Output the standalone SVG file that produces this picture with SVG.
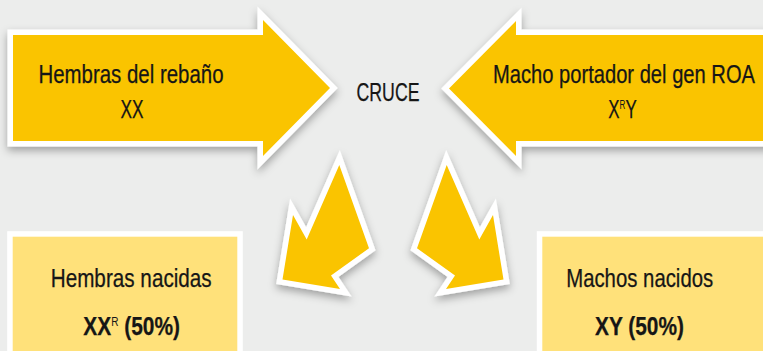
<svg xmlns="http://www.w3.org/2000/svg" width="763" height="351" viewBox="0 0 763 351">
<defs>
<filter id="sh" x="-20%" y="-20%" width="140%" height="150%">
<feDropShadow dx="0" dy="4" stdDeviation="4.5" flood-color="#000" flood-opacity="0.33"/>
</filter>
<style>
.arr{fill:#FAC400;stroke:#fff;stroke-width:11;stroke-linejoin:miter;stroke-miterlimit:10;paint-order:stroke;filter:url(#sh)}
.box{fill:#FFE17A;stroke:#fff;stroke-width:11;paint-order:stroke}
.t{font-family:"Liberation Sans Narrow","Liberation Sans",Arial,sans-serif;font-size:25px;fill:#161616;stroke:#161616;stroke-width:0.25}
.c{text-anchor:middle}
.b{font-weight:bold}
.sup{font-size:12px;font-weight:normal;stroke-width:0}
</style>
</defs>
<rect width="763" height="351" fill="#ECEDEC"/>
<g id="connectors">
<polygon id="arrow-down-left" class="arr" points="339.3,165 369,248.3 331,275.5 340,289 282.5,279.5 293,215 306.7,239.5"/>
<polygon id="arrow-down-right" class="arr" transform="translate(786,0) scale(-1,1)" points="339.3,165 369,248.3 331,275.5 340,289 282.5,279.5 293,215 306.7,239.5"/>
</g>
<g id="node-hembras-rebano">
<polygon class="arr" points="13,35 263,35 263,20 330,88 263,156 263,141 13,141"/>
<text class="t c" x="131" y="83" textLength="185" lengthAdjust="spacingAndGlyphs">Hembras del rebaño</text>
<text class="t c" x="132" y="118" textLength="23" lengthAdjust="spacingAndGlyphs">XX</text>
</g>
<g id="node-cruce">
<text class="t c" x="388" y="100.5" textLength="63" lengthAdjust="spacingAndGlyphs">CRUCE</text>
</g>
<g id="node-macho">
<polygon class="arr" points="790,35 516,35 516,21 449,88.5 516,156 516,141 790,141"/>
<text class="t c" x="624" y="83" textLength="262" lengthAdjust="spacingAndGlyphs">Macho portador del gen ROA</text>
<text class="t" x="608.3" y="118" textLength="28.4" lengthAdjust="spacingAndGlyphs">X<tspan class="sup" dy="-9">R</tspan><tspan dy="9">Y</tspan></text>
</g>
<g id="node-hembras-nacidas">
<rect class="box" x="12.7" y="236.7" width="224.6" height="130"/>
<text class="t c" x="131.2" y="286.7" textLength="161" lengthAdjust="spacingAndGlyphs">Hembras nacidas</text>
<text class="t b" x="83.3" y="335" textLength="96.7" lengthAdjust="spacingAndGlyphs">XX<tspan class="sup" dy="-9">R</tspan><tspan dy="9"> (50%)</tspan></text>
</g>
<g id="node-machos-nacidos">
<rect class="box" x="542.3" y="236.7" width="240" height="130"/>
<text class="t c" x="639.7" y="286.7" textLength="147" lengthAdjust="spacingAndGlyphs">Machos nacidos</text>
<text class="t c b" x="639.5" y="335" textLength="89" lengthAdjust="spacingAndGlyphs">XY (50%)</text>
</g>
</svg>
